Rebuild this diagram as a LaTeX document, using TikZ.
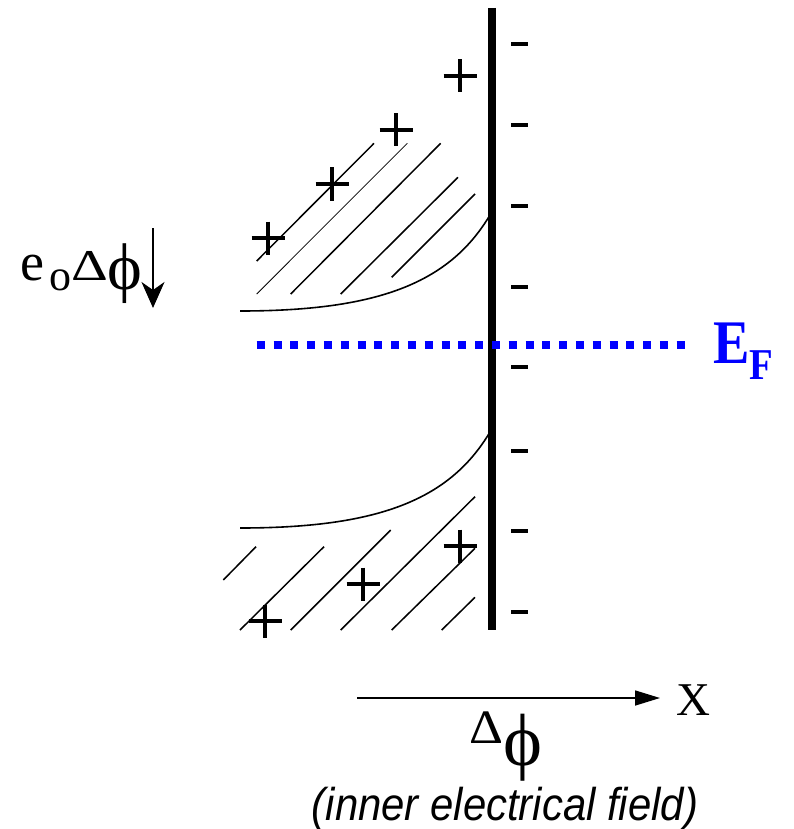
\documentclass[tikz,border=0pt]{standalone}
\usepackage{fontspec}
\setmainfont{Liberation Serif}
\setsansfont{Liberation Sans}
\usetikzlibrary{arrows.meta,positioning}
\definecolor{fermiblue}{RGB}{0,0,255}

\begin{document}
\begin{tikzpicture}[x=1pt, y=-1pt,
    surface/.style={line width=8pt},
    band/.style={line width=1.6pt},
    hatch/.style={line width=1.5pt},
    charge/.style={line width=4.2pt},
    fermi/.style={fermiblue, line width=8pt, dash pattern=on 8pt off 8.8pt},
    txt/.style={inner sep=0pt, anchor=base west}
  ]
  \useasboundingbox (0,0) rectangle (794,829);

  \coordinate (surfTop) at (491.5,8);
  \coordinate (surfBot) at (491.5,630);
  \draw[surface] (surfTop) -- (surfBot);

  \foreach \y in {44,125,206,287,367,451,531,612}
    \draw[charge] (511,\y) -- (528,\y);

  \foreach \x/\y in {460/76, 396/130, 332/184, 268/238, 460/546, 363/584, 265/621}
    \draw[charge] (\x-16.5,\y) -- (\x+16.5,\y) (\x,\y-16.5) -- (\x,\y+16.5);

  \draw[band] (240,311) .. controls (380,311) and (450,282) .. (490,215);
  \draw[band] (240,528) .. controls (380,528) and (450,499) .. (490,432);

  \foreach \ax/\ay/\bx/\by in {256.7/261/374/143.3, 290.7/294/440.7/143.3,
      340.7/294/458/177.3, 391.7/277.3/475/194}
    \draw[hatch] (\ax,\ay) -- (\bx,\by);
  \draw[line width=0.8pt] (256.7,294) -- (407.3,143.3);

  \foreach \ax/\ay/\bx/\by in {223.3/580/256/546.7, 240/630/324/546.7, 290.7/630/390.7/530,
      340.7/630/475/496.7, 391.7/630/475/548.3, 441.7/630/475/597.3}
    \draw[hatch] (\ax,\ay) -- (\bx,\by);

  \coordinate (fermiL) at (256.7,345);
  \coordinate (fermiR) at (685,345);
  \draw[fermi] (fermiL) -- (fermiR);
  \node[txt, text=fermiblue] (ef) at (713,363)
    {\scalebox{0.88}[1]{\fontsize{62}{62}\selectfont\bfseries E\raisebox{-16pt}{\fontsize{44}{44}\selectfont F}}};

  \node[txt] (potlabel) at (20,280)
    {\fontsize{54}{54}\selectfont e\hspace{5pt}\raisebox{-10pt}{\fontsize{44}{44}\selectfont o}\scalebox{1.3}[1]{\fontsize{44}{44}\selectfont Δ}\raisebox{-9pt}{\fontsize{66}{66}\selectfont ϕ}};
  \coordinate (potTop) at (153,228);
  \coordinate (potBot) at (153,308);
  \draw[band, -{Stealth[length=26pt, width=23pt, inset=8pt]}] (potTop) -- (potBot);

  \coordinate (axisL) at (357,698);
  \coordinate (axisR) at (660,698);
  \draw[band, -{Triangle[length=25pt, width=15pt]}] (axisL) -- (axisR);
  \node[txt] (xlabel) at (676,715) {\fontsize{47}{47}\selectfont X};

  \node[txt] (dphi) at (469,743)
    {\scalebox{1.1}[1]{\fontsize{48}{48}\selectfont Δ}\raisebox{-22pt}{\fontsize{74}{74}\selectfont ϕ}};
  \node[inner sep=0pt, anchor=base] (field) at (505,820)
    {\scalebox{0.91}[1]{\sffamily\itshape\fontsize{46}{46}\selectfont (inner electrical field)}};
\end{tikzpicture}
\end{document}
